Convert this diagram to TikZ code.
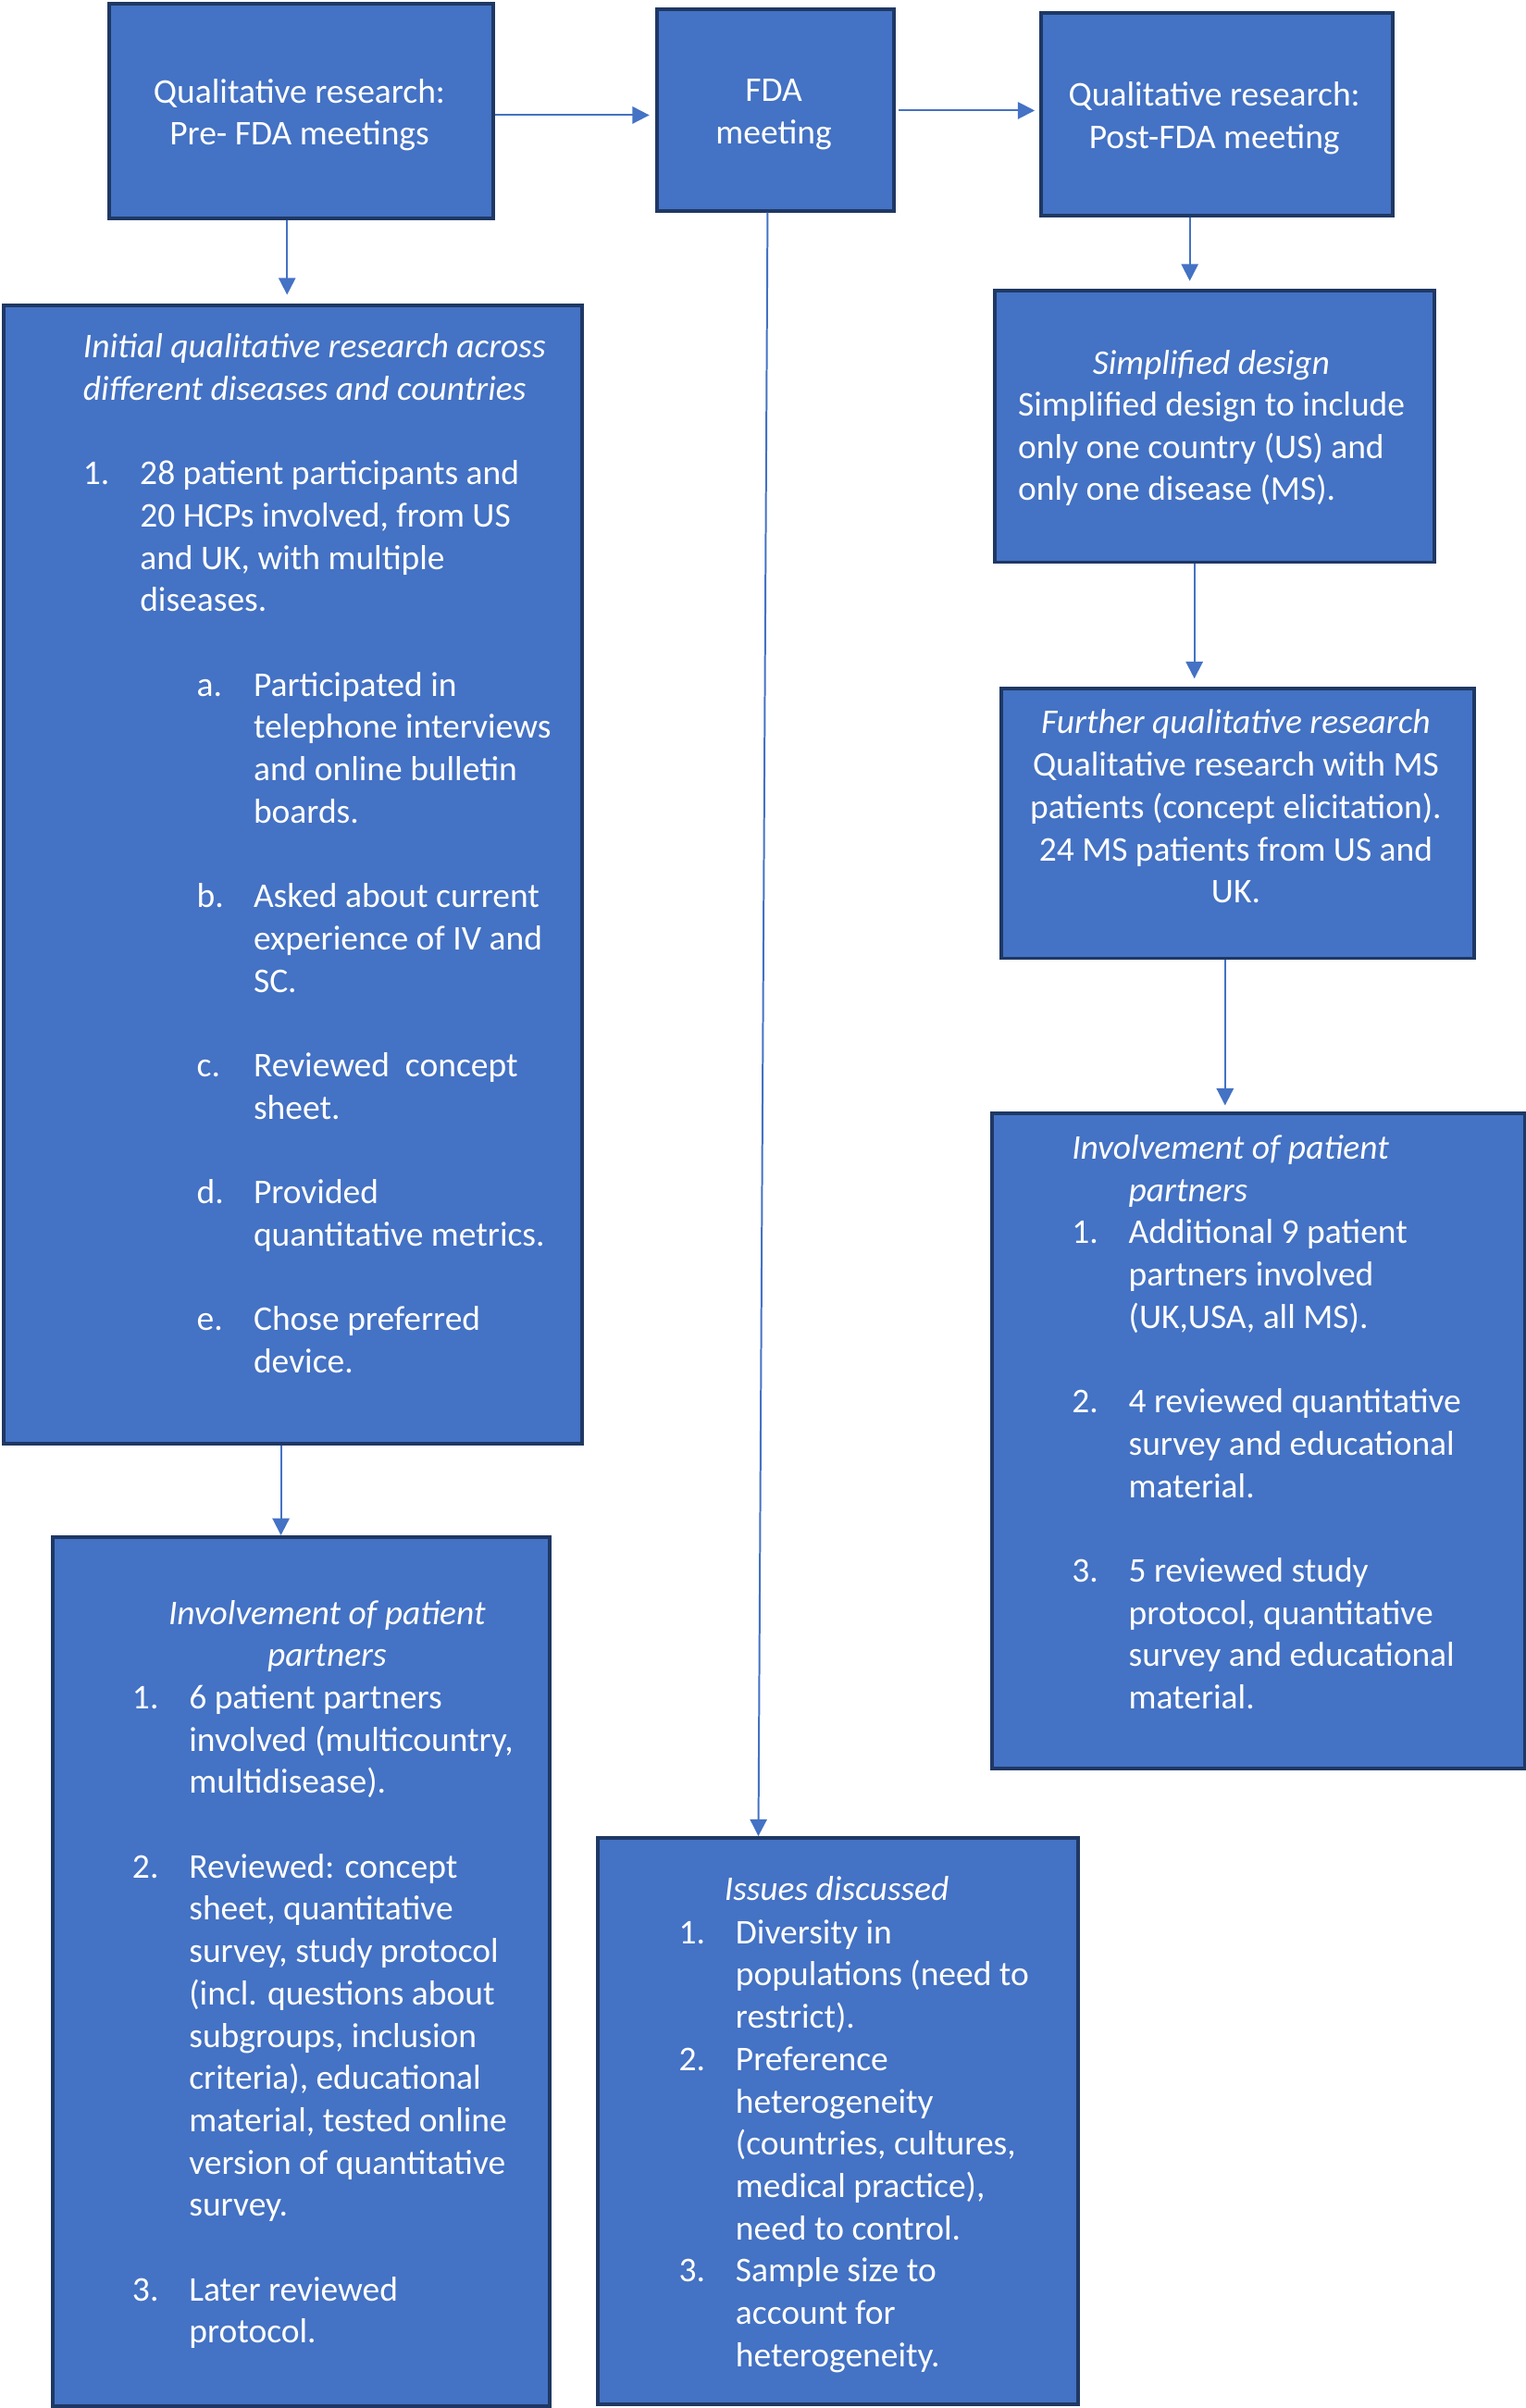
\documentclass[tikz,border=0pt]{standalone}
\usepackage{fontspec}
\setmainfont{Carlito}
\usetikzlibrary{arrows.meta}
\definecolor{boxfill}{HTML}{4472C4}
\definecolor{boxline}{HTML}{1F3864}
\newcommand\fs{\fontsize{22.6}{27.55}\selectfont}
\newcommand\itm[1]{\makebox[37pt][l]{#1}}
\newcommand\ind{\hspace*{37pt}}
\newcommand\sitm[1]{\hspace*{74pt}\makebox[37pt][l]{#1}}
\newcommand\sind{\hspace*{111pt}}
\tikzset{
  box/.style={draw=boxline, line width=2.4pt, fill=boxfill, inner sep=0pt, anchor=north west},
  conn/.style={draw=boxfill, line width=1.2pt, -{Triangle[length=11pt,width=11pt]}},
  txt/.style={text=white, inner sep=0pt, font=\fs},
}
\begin{document}
\begin{tikzpicture}[x=1pt,y=-1pt]
\useasboundingbox (0,0) rectangle (994,1568.5);
% boxes
\node[box, minimum width=250pt, minimum height=140pt] (pre) at (70,1) {};
\node[box, minimum width=154pt, minimum height=131pt] (fda) at (427,5) {};
\node[box, minimum width=229pt, minimum height=132pt] (post) at (677,7) {};
\node[box, minimum width=377pt, minimum height=741pt] (init) at (1,198) {};
\node[box, minimum width=286pt, minimum height=177pt] (simp) at (647,188) {};
\node[box, minimum width=308pt, minimum height=176pt] (furt) at (651,447) {};
\node[box, minimum width=347pt, minimum height=427pt] (invr) at (645,724) {};
\node[box, minimum width=324pt, minimum height=566pt] (invl) at (33,1000) {};
\node[box, minimum width=313pt, minimum height=369pt] (iss) at (388,1196) {};
% connector guides
\coordinate (ya) at (0,75);
\coordinate (yb) at (0,72);
\coordinate (xa) at (187,0);
\coordinate (xb) at (775,0);
\coordinate (xc) at (778,0);
\coordinate (xd) at (798,0);
\coordinate (xe) at (183,0);
\coordinate (xf) at (500,0);
\coordinate (xg) at (494,0);
% connectors
\draw[conn, shorten >=4pt] (pre.east |- ya) -- (fda.west |- ya);
\draw[conn, shorten >=3pt, shorten <=2pt] (fda.east |- yb) -- (post.west |- yb);
\draw[conn, shorten >=6pt] (pre.south -| xa) -- (init.north -| xa);
\draw[conn, shorten >=5pt] (post.south -| xb) -- (simp.north -| xb);
\draw[conn, shorten >=5pt] (simp.south -| xc) -- (furt.north -| xc);
\draw[conn, shorten >=4pt] (furt.south -| xd) -- (invr.north -| xd);
\draw[conn] (init.south -| xe) -- (invl.north -| xe);
\draw[conn] (fda.south -| xf) -- (iss.north -| xg);
% texts
\node[txt, anchor=base] (tpre) at (195,67) {\begin{tabular}[t]{@{}c@{}}Qualitative research:\\Pre- FDA meetings\end{tabular}};
\node[txt, anchor=base] (tfda) at (504,66) {\begin{tabular}[t]{@{}c@{}}FDA\\meeting\end{tabular}};
\node[txt, anchor=base] (tpost) at (791,69) {\begin{tabular}[t]{@{}c@{}}Qualitative research:\\Post-FDA meeting\end{tabular}};
\node[txt, anchor=base west] (tinit) at (54,233) {\begin{tabular}[t]{@{}l@{}}
\textit{Initial qualitative research across}\\
\textit{different diseases and countries}\\
\\
\itm{1.}28 patient participants and\\
\ind 20 HCPs involved, from US\\
\ind and UK, with multiple\\
\ind diseases.\\
\\
\sitm{a.}Participated in\\
\sind telephone interviews\\
\sind and online bulletin\\
\sind boards.\\
\\
\sitm{b.}Asked about current\\
\sind experience of IV and\\
\sind SC.\\
\\
\sitm{c.}Reviewed\ \ concept\\
\sind sheet.\\
\\
\sitm{d.}Provided\\
\sind quantitative metrics.\\
\\
\sitm{e.}Chose preferred\\
\sind device.
\end{tabular}};
\node[txt, anchor=base] (tsimph) at (789,244) {\textit{Simplified design}};
\node[txt, anchor=base west] (tsimp) at (663,271) {\begin{tabular}[t]{@{}l@{}}
Simplified design to include\\
only one country (US) and\\
only one disease (MS).
\end{tabular}};
\node[txt, anchor=base] (tfurt) at (805,478) {\begin{tabular}[t]{@{}c@{}}
\textit{Further qualitative research}\\
Qualitative research with MS\\
patients (concept elicitation).\\
24 MS patients from US and\\
UK.
\end{tabular}};
\node[txt, anchor=base west] (tinvr) at (698,755) {\begin{tabular}[t]{@{}l@{}}
\textit{Involvement of patient}\\
\ind\textit{partners}\\
\itm{1.}Additional 9 patient\\
\ind partners involved\\
\ind (UK,USA, all MS).\\
\\
\itm{2.}4 reviewed quantitative\\
\ind survey and educational\\
\ind material.\\
\\
\itm{3.}5 reviewed study\\
\ind protocol, quantitative\\
\ind survey and educational\\
\ind material.
\end{tabular}};
\node[txt, anchor=base] (tinvlh) at (213,1058) {\begin{tabular}[t]{@{}c@{}}
\textit{Involvement of patient}\\
\textit{partners}
\end{tabular}};
\node[txt, anchor=base west] (tinvl) at (86,1113) {\begin{tabular}[t]{@{}l@{}}
\itm{1.}6 patient partners\\
\ind involved (multicountry,\\
\ind multidisease).\\
\\
\itm{2.}Reviewed: concept\\
\ind sheet, quantitative\\
\ind survey, study protocol\\
\ind (incl. questions about\\
\ind subgroups, inclusion\\
\ind criteria), educational\\
\ind material, tested online\\
\ind version of quantitative\\
\ind survey.\\
\\
\itm{3.}Later reviewed\\
\ind protocol.
\end{tabular}};
\node[txt, anchor=base] (tissh) at (545,1238) {\textit{Issues discussed}};
\node[txt, anchor=base west] (tiss) at (442,1266) {\begin{tabular}[t]{@{}l@{}}
\itm{1.}Diversity in\\
\ind populations (need to\\
\ind restrict).\\
\itm{2.}Preference\\
\ind heterogeneity\\
\ind (countries, cultures,\\
\ind medical practice),\\
\ind need to control.\\
\itm{3.}Sample size to\\
\ind account for\\
\ind heterogeneity.
\end{tabular}};
\end{tikzpicture}
\end{document}
